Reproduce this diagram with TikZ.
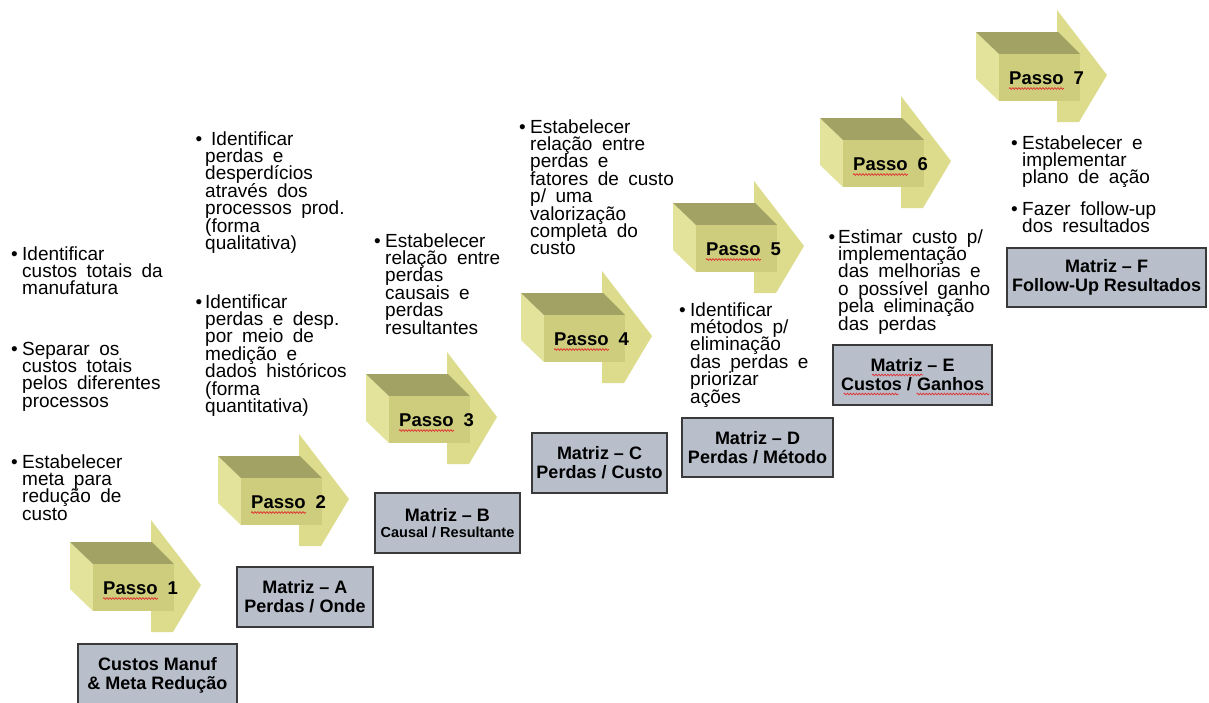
\documentclass[tikz,border=0pt]{standalone}
\usepackage{fontspec}
\setmainfont{Liberation Sans}
\usetikzlibrary{calc,decorations.pathmorphing}

% colours of the block arrows and the matrix boxes
\definecolor{arFront}{HTML}{CDCD7D}
\definecolor{arTop}{HTML}{A2A264}
\definecolor{arLeft}{HTML}{E3E39B}
\definecolor{arHead}{HTML}{DCDC8C}
\definecolor{boxFill}{HTML}{B8BFCB}
\definecolor{boxLine}{HTML}{3A3A3A}
\definecolor{squigRed}{HTML}{E03030}

% bullet hanging to the left of the first line
\newcommand\bl[1]{\leavevmode\llap{\textbullet\hspace{#1}}}
% a bulleted paragraph, first baseline at the node anchor
\newcommand\bpar[1]{\parbox[t]{190pt}{\lineskiplimit=-\maxdimen
  \spaceskip=.5em plus .1em\relax\raggedright #1}}

\tikzset{
  btxt/.style={anchor=base west, inner sep=0pt,
    font=\fontsize{19}{17.4}\selectfont},
  passotxt/.style={anchor=base west, inner sep=0pt,
    font=\bfseries\fontsize{18.5}{20}\selectfont},
  mbox/.style={draw=boxLine, line width=1.1pt, fill=boxFill, inner sep=0pt,
    align=center, font=\bfseries\fontsize{18}{19}\selectfont},
  squig/.style={draw=squigRed, line width=0.7pt, decorate,
    decoration={snake, amplitude=0.9pt, segment length=3pt}}
}

% one 3-D block arrow with its "Passo n" label; #1,#2 = top-left corner
\newcommand\passo[3]{%
  \begin{scope}[shift={(#1,#2)}]
    \fill[arHead] (81,1) -- (131,66) -- (103,113) -- (81,113) -- cycle;
    \fill[arLeft] (0,23) -- (23,45) -- (23,92) -- (0,70) -- cycle;
    \fill[arTop] (0,23) -- (82,23) -- (104,45) -- (23,45) -- cycle;
    \fill[arFront] (23,45) rectangle (104,92);
    \node[passotxt] (pw#3) at (33,75) {Passo};
    \node[passotxt] (pn#3) at (97.5,75) {#3};
    \draw[squig] ($(pw#3.base west)+(0,4.5)$) -- ($(pw#3.base east)+(0,4.5)$);
  \end{scope}}

\begin{document}
\begin{tikzpicture}[x=1pt,y=-1pt]
  \useasboundingbox (0,0) rectangle (1209,702);
  \fill[white] (0,0) rectangle (1209,702);

  % the seven steps, climbing to the right
  \passo{70}{519}{1}
  \passo{218}{433}{2}
  \passo{366}{351}{3}
  \passo{521}{270}{4}
  \passo{673}{180}{5}
  \passo{820}{95}{6}
  \passo{976}{9}{7}

  % result matrices
  \node[mbox, minimum width=159pt, minimum height=62pt] (m0) at (157.5,675)
    {Custos Manuf\\\& Meta Redução};
  \node[mbox, minimum width=136pt, minimum height=60pt] (mA) at (305,597)
    {Matriz – A\\Perdas / Onde};
  \node[mbox, minimum width=145pt, minimum height=60pt] (mB) at (447.5,523)
    {Matriz – B\\[-3pt]{\fontsize{14.5}{15}\selectfont Causal / Resultante}};
  \node[mbox, minimum width=135pt, minimum height=60pt] (mC) at (599.5,463)
    {Matriz – C\\Perdas / Custo};
  \node[mbox, minimum width=151pt, minimum height=59pt] (mD) at (757.5,447.5)
    {Matriz – D\\Perdas / Método};
  \node[mbox, minimum width=159pt, minimum height=60pt] (mE) at (912.5,375)
    {Matriz – E\\Custos / Ganhos};
  \node[mbox, minimum width=199pt, minimum height=59pt] (mF) at (1106.5,277.5)
    {Matriz – F\\Follow-Up Resultados};
  \draw[squig] ($(mE.center)+(-40.5,0)$) -- ($(mE.center)+(10.5,0)$);
  \draw[squig] ($(mE.center)+(-69,19)$) -- ($(mE.center)+(-14,19)$);
  \draw[squig] ($(mE.center)+(4,19)$) -- ($(mE.center)+(77,19)$);

  % step 1
  \node[btxt] (t1a) at (22,260) {\bpar{\bl{4.5pt}Identificar\\custos totais da\\manufatura}};
  \node[btxt] (t1b) at (22,355) {\bpar{\bl{4.5pt}Separar os\\custos totais\\pelos diferentes\\processos}};
  \node[btxt] (t1c) at (22,468) {\bpar{\bl{4.5pt}Estabelecer\\meta para\\redução de\\custo}};
  % step 2
  \node[btxt] (t2a) at (205,145) {\bpar{\bl{3pt}\hspace{6pt}Identificar\\perdas e\\desperdícios\\através dos\\processos prod.\\(forma\\qualitativa)}};
  \node[btxt] (t2b) at (205,308) {\bpar{\bl{3pt}Identificar\\perdas e desp.\\por meio de\\medição e\\dados históricos\\(forma\\quantitativa)}};
  % step 3
  \node[btxt] (t3) at (385,247) {\bpar{\bl{4.5pt}Estabelecer\\relação entre\\perdas\\causais e\\perdas\\resultantes}};
  % step 4
  \node[btxt] (t4) at (530,133) {\bpar{\bl{4.5pt}Estabelecer\\relação entre\\perdas e\\fatores de custo\\p/ uma\\valorização\\completa do\\custo}};
  % step 5
  \node[btxt] (t5) at (690,316) {\bpar{\bl{4.5pt}Identificar\\métodos p/\\eliminação\\das perdas e\\priorizar\\ações}};
  % step 6
  \node[btxt] (t6) at (838,243) {\bpar{\bl{3pt}Estimar custo p/\\implementação\\das melhorias e\\o possível ganho\\pela eliminação\\das perdas}};
  % step 7
  \node[btxt] (t7a) at (1022,149) {\bpar{\bl{4.5pt}Estabelecer e\\implementar\\plano de ação}};
  \node[btxt] (t7b) at (1022,215) {\bpar{\bl{4.5pt}Fazer follow-up\\dos resultados}};
\end{tikzpicture}
\end{document}
